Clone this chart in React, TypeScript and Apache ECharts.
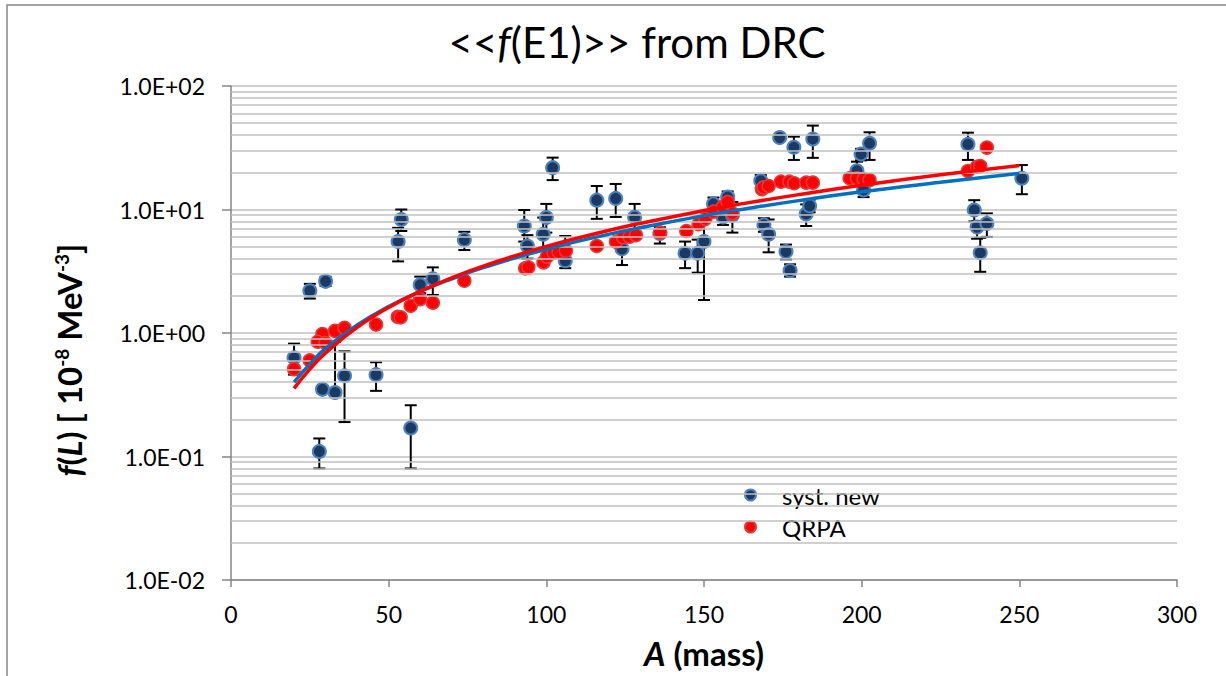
import React, { useEffect, useRef } from "react";
import * as echarts from "echarts";

// syst. new (blue) : mass number, value, error bar low, error bar high
const sysA = [20, 25, 30, 29, 33, 36, 46, 28, 57, 54, 53, 74, 60, 64, 102, 93, 94, 100, 99, 106, 116, 122, 124, 128, 136, 144, 148, 150, 153, 156, 157.5, 159, 168, 169, 170.5, 174, 178.5, 176, 177.3, 184.5, 182.4, 183.5, 198.5, 199.8, 202.5, 200.6, 233.7, 250.8, 235.7, 236.6, 239.7, 237.6];
const sysF = [0.63, 2.2, 2.62, 0.35, 0.33, 0.45, 0.46, 0.11, 0.17, 8.3, 5.5, 5.7, 2.46, 2.75, 21.8, 7.35, 5.06, 8.6, 6.3, 3.85, 11.9, 12.3, 4.8, 8.65, 6.4, 4.42, 4.42, 5.5, 11.1, 8.7, 12.6, 9.0, 17.1, 7.5, 6.3, 38.2, 31.9, 4.56, 3.2, 37.2, 9.2, 10.7, 20.6, 28.1, 34.4, 14.4, 33.7, 17.9, 9.9, 7.2, 7.7, 4.46];
const sysLo = [0.46, 1.9, 2.4, 0.33, 0.31, 0.19, 0.34, 0.08, 0.08, 6.7, 3.8, 4.7, 2.1, 2.03, 17.3, 5.5, 4.0, 6.5, 4.8, 3.35, 8.4, 8.7, 3.55, 6.5, 5.3, 3.35, 3.08, 1.85, 9.5, 7.5, 11, 6.5, 15, 6.6, 4.5, 36, 25.2, 3.95, 2.86, 26.2, 7.35, 9.5, 17, 25, 25.2, 12.6, 25.2, 13.3, 8.0, 5.8, 6.0, 3.13];
const sysHi = [0.82, 2.5, 2.85, 0.37, 0.85, 0.71, 0.58, 0.14, 0.26, 10.0, 7.1, 6.6, 2.86, 3.4, 26.3, 9.9, 6.2, 11.1, 8.6, 6.1, 15.5, 16.1, 6.1, 11.1, 7.2, 5.5, 5.7, 8.2, 12.5, 10, 14, 11.5, 19, 8.5, 8.3, 40, 38.9, 5.2, 3.6, 47.8, 11, 12, 24.4, 31, 42.2, 16.3, 41.9, 22.9, 11.9, 8.0, 9.3, 5.9];

// QRPA (red)
const qrpaA = [20, 25, 29, 27.5, 30, 33, 36, 46, 52.9, 53.8, 57, 60, 64, 74, 93.3, 94.3, 99.1, 100.2, 102.3, 103.9, 106.2, 116, 122.1, 124.3, 126.4, 128.4, 136.1, 144.4, 148.3, 150.4, 153, 156, 157.5, 159, 168.4, 168.9, 170.5, 174.4, 177.1, 178.6, 182.4, 184.5, 196.2, 198.5, 200.6, 202.5, 233.7, 236.6, 237.6, 239.7];
const qrpaF = [0.51, 0.6, 0.98, 0.85, 0.83, 1.04, 1.1, 1.17, 1.35, 1.34, 1.66, 1.88, 1.76, 2.65, 3.34, 3.4, 3.73, 4.15, 4.47, 4.53, 4.64, 5.06, 5.48, 5.95, 6.03, 6.2, 6.5, 6.7, 7.6, 8.4, 9.6, 10.5, 11.5, 9.3, 14.6, 15.1, 15.5, 16.8, 16.8, 16.3, 16.5, 16.5, 17.9, 17.9, 17.6, 17.3, 20.5, 22.2, 22.5, 31.7];

// trend curves
const fitA = [20, 25, 30, 40, 50, 60, 70, 80, 100, 120, 130, 150, 160, 180, 200, 225, 250];
const fitSys = [0.40, 0.56, 0.75, 1.16, 1.64, 2.17, 2.75, 3.38, 4.77, 6.32, 7.14, 8.92, 9.84, 11.8, 13.9, 16.6, 19.6];
const fitQrpa = [0.356, 0.51, 0.69, 1.11, 1.61, 2.17, 2.80, 3.48, 5.03, 6.79, 7.74, 9.8, 10.9, 13.2, 15.7, 19.1, 22.7];

// minor gridlines of the log axis
const gridDecades = [0.01, 0.1, 1, 10];
const gridMultipliers = [2, 3, 4, 5, 6, 7, 8, 9];

const FONT = "Lato, 'Open Sans', sans-serif";

function formatExp(v: number): string {
  const e = Math.round(Math.log10(v));
  const m = v / Math.pow(10, e);
  const sign = e < 0 ? "-" : "+";
  return m.toFixed(1) + "E" + sign + String(Math.abs(e)).padStart(2, "0");
}

export default function App() {
  const ref = useRef<HTMLDivElement>(null);
  useEffect(() => {
    if (!ref.current) return;
    const chart = echarts.init(ref.current, undefined, { renderer: "svg" });

    const minorLines: { yAxis: number }[] = [];
    gridDecades.forEach((d) => gridMultipliers.forEach((m) => minorLines.push({ yAxis: +(d * m).toPrecision(3) })));

    const errData = sysA.map((a, i) => [a, sysLo[i], sysHi[i]]);
    const sysData = sysA.map((a, i) => [a, sysF[i]]);
    const qrpaData = qrpaA.map((a, i) => [a, qrpaF[i]]);
    const fitSysData = fitA.map((a, i) => [a, fitSys[i]]);
    const fitQrpaData = fitA.map((a, i) => [a, fitQrpa[i]]);

    chart.setOption({
      animation: false,
      backgroundColor: "#ffffff",
      textStyle: { fontFamily: FONT },
      title: {
        text: "<<{i|f}(E1)>> from DRC",
        left: 632,
        textAlign: "center",
        top: 16,
        textStyle: {
          fontFamily: FONT,
          fontSize: 42,
          fontWeight: "normal",
          color: "#000",
          rich: {
            i: { fontFamily: FONT, fontSize: 42, fontStyle: "italic", color: "#000" },
          },
        },
      },
      graphic: [
        {
          type: "rect",
          shape: { x: 7, y: 5, width: 1240, height: 700 },
          style: { fill: "none", stroke: "#868686", lineWidth: 1.5 },
          silent: true,
        },
      ],
      legend: {
        data: ["syst. new", "QRPA"],
        orient: "vertical",
        left: 739,
        top: 478,
        itemWidth: 53,
        itemHeight: 11,
        itemGap: 8,
        textStyle: { fontFamily: FONT, fontSize: 24, color: "#000" },
      },
      grid: { left: 231, right: 49, top: 86, bottom: 96, containLabel: false },
      xAxis: {
        type: "value",
        min: 0,
        max: 300,
        interval: 50,
        name: "{i|A}{b| (mass)}",
        nameLocation: "middle",
        nameGap: 56,
        nameTextStyle: {
          rich: {
            i: { fontFamily: FONT, fontSize: 33, fontWeight: "bold", fontStyle: "italic", color: "#000" },
            b: { fontFamily: FONT, fontSize: 33, fontWeight: "bold", color: "#000" },
          },
        },
        axisLine: { show: true, lineStyle: { color: "#868686", width: 1.5 } },
        axisTick: { show: true, inside: false, length: 7, lineStyle: { color: "#868686", width: 1.5 } },
        axisLabel: { fontFamily: FONT, fontSize: 23, color: "#000", margin: 22 },
        splitLine: { show: false },
      },
      yAxis: {
        type: "log",
        logBase: 10,
        min: 0.01,
        max: 100,
        name: "{i|f}{b|(}{i|L}{b|) [ 10}{s|-8}{b| MeV}{s|-3}{b|]}",
        nameLocation: "middle",
        nameGap: 146,
        nameRotate: 90,
        nameTextStyle: {
          padding: [0, 54, 0, 0],
          rich: {
            i: { fontFamily: FONT, fontSize: 33, fontWeight: "bold", fontStyle: "italic", color: "#000" },
            b: { fontFamily: FONT, fontSize: 33, fontWeight: "bold", color: "#000" },
            s: { fontFamily: FONT, fontSize: 19, fontWeight: "bold", color: "#000", verticalAlign: "top", padding: [0, 0, 14, 0] },
          },
        },
        axisLine: { show: true, lineStyle: { color: "#868686", width: 1.5 } },
        axisTick: { show: true, inside: false, length: 9, lineStyle: { color: "#868686", width: 1.5 } },
        axisLabel: { fontFamily: FONT, fontSize: 23, color: "#000", margin: 26, formatter: formatExp },
        splitLine: { show: true, lineStyle: { color: "#c0c0c0", width: 1.5 } },
      },
      series: [
        {
          type: "line",
          name: "grid",
          data: [],
          silent: true,
          z: 1,
          markLine: {
            silent: true,
            symbol: ["none", "none"],
            label: { show: false },
            lineStyle: { type: "solid", color: "#c0c0c0", width: 1.5 },
            data: minorLines,
          },
        },
        {
          type: "custom",
          name: "err",
          data: errData,
          z: 2,
          silent: true,
          encode: { x: 0, y: [1, 2] },
          renderItem: (params: any, api: any) => {
            const x = api.value(0);
            const lo = api.value(1);
            const hi = api.value(2);
            const p1 = api.coord([x, hi]);
            const p2 = api.coord([x, lo]);
            const w = 6;
            const st = { stroke: "#000", lineWidth: 2 };
            return {
              type: "group",
              children: [
                { type: "line", shape: { x1: p1[0], y1: p1[1], x2: p2[0], y2: p2[1] }, style: st },
                { type: "line", shape: { x1: p1[0] - w, y1: p1[1], x2: p1[0] + w, y2: p1[1] }, style: st },
                { type: "line", shape: { x1: p2[0] - w, y1: p2[1], x2: p2[0] + w, y2: p2[1] }, style: st },
              ],
            };
          },
        },
        {
          type: "scatter",
          name: "syst. new",
          data: sysData,
          z: 3,
          symbol: "circle",
          symbolSize: 13,
          itemStyle: { color: "#1b3a63", borderColor: "#4f81bd", borderWidth: 2, opacity: 1 },
        },
        {
          type: "scatter",
          name: "QRPA",
          data: qrpaData,
          z: 4,
          symbol: "circle",
          symbolSize: 13,
          itemStyle: { color: "#ff0000", borderColor: "#e23b3b", borderWidth: 1.5, opacity: 1 },
        },
        {
          type: "line",
          name: "syst. fit",
          data: fitSysData,
          z: 5,
          smooth: true,
          showSymbol: false,
          symbol: "none",
          lineStyle: { color: "#0070c0", width: 3.5 },
        },
        {
          type: "line",
          name: "QRPA fit",
          data: fitQrpaData,
          z: 6,
          smooth: true,
          showSymbol: false,
          symbol: "none",
          lineStyle: { color: "#ff0000", width: 3.5 },
        },
      ],
    });
    return () => chart.dispose();
  }, []);
  return <div ref={ref} style={{ position: "fixed", left: 0, top: 0, width: 1226, height: 676 }} />;
}
